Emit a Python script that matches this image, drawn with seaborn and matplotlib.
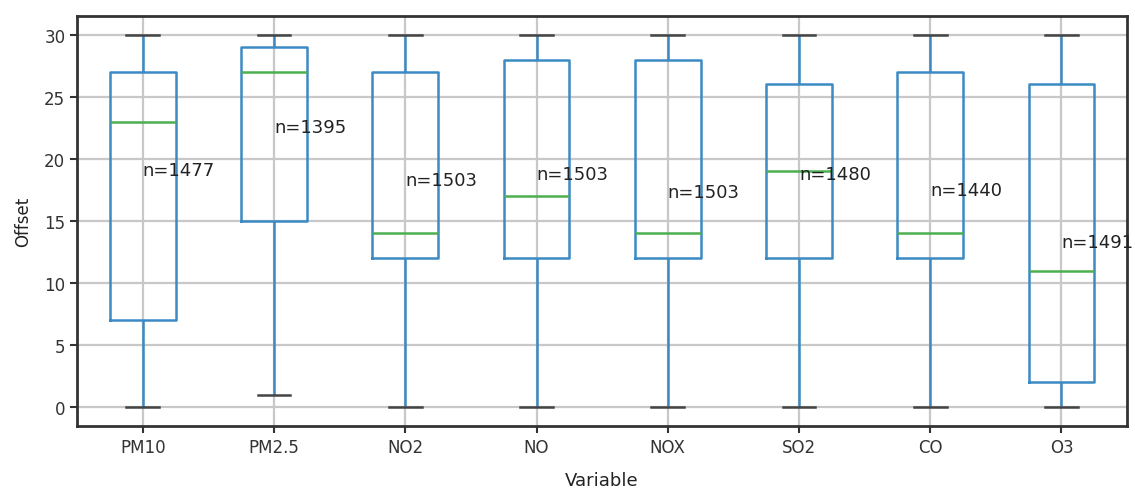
import matplotlib
matplotlib.use("Agg")
import matplotlib.pyplot as plt
import pandas as pd
import seaborn as sns

# Five-number summaries per pollutant (min, Q1, median, Q3, max)
variables = ["PM10", "PM2.5", "NO2", "NO", "NOX", "SO2", "CO", "O3"]
mins    = [0, 1, 0, 0, 0, 0, 0, 0]
q1s     = [7, 15, 12, 12, 12, 12, 12, 2]
medians = [23, 27, 14, 17, 14, 19, 14, 11]
q3s     = [27, 29, 27, 28, 28, 26, 27, 26]
maxs    = [30, 30, 30, 30, 30, 30, 30, 30]

# Sample counts and the height at which each count label sits
counts = [1477, 1395, 1503, 1503, 1503, 1480, 1440, 1491]
label_y = [19.1, 22.6, 18.3, 18.8, 17.3, 18.8, 17.5, 13.3]

rows = []
for v, a, b, c, d, e in zip(variables, mins, q1s, medians, q3s, maxs):
    for val in (a, b, c, d, e):
        rows.append({"Variable": v, "Offset": val})
df = pd.DataFrame(rows)

plt.rcParams["font.family"] = ["DejaVu Sans"]
fig = plt.figure(figsize=(11.35, 4.89), dpi=100)
ax = fig.add_axes([0.068, 0.127, 0.925, 0.838])

sns.boxplot(
    data=df, x="Variable", y="Offset", order=variables,
    fill=False, color="#3b8ac4", width=0.5, whis=(0, 100),
    linewidth=1.8, showfliers=False,
    medianprops=dict(color="#4caf50", linewidth=1.8),
    capprops=dict(color="#444444", linewidth=1.8),
    ax=ax,
)

for i, (n, y) in enumerate(zip(counts, label_y)):
    ax.text(i, y, f"n={n}", fontsize=13, va="center", ha="left", color="#222222")

ax.set_xlim(-0.5, len(variables) - 0.5)
ax.set_ylim(-1.5, 31.5)
ax.set_yticks(range(0, 31, 5))
ax.grid(True, color="#c8c8c8", linewidth=1.6)
ax.set_axisbelow(True)
for s in ax.spines.values():
    s.set_color("#333333")
    s.set_linewidth(2.0)
ax.tick_params(labelsize=12, length=5, width=1.5, color="#333333", labelcolor="#333333")
ax.set_xlabel("Variable", fontsize=13, labelpad=11, color="#222222")
ax.set_ylabel("Offset", fontsize=12, labelpad=9, color="#222222")

fig.savefig("out.png", dpi=100)
